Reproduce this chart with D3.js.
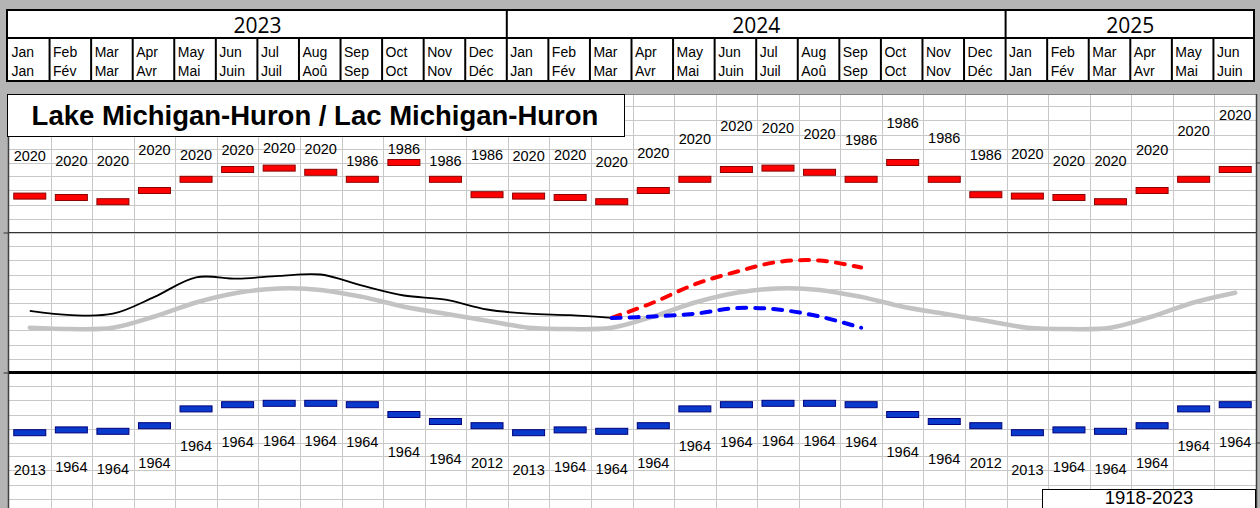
<!DOCTYPE html>
<html>
<head>
<meta charset="utf-8">
<script src="https://cdn.jsdelivr.net/npm/d3@7"></script>
<style>
  body { margin: 0; background: #b4b4b4; }
  svg { display: block; }
  text { font-family: "Liberation Sans", Arial, sans-serif; fill: #000; }
</style>
</head>
<body>
<svg width="1260" height="508"></svg>
<script>
// month labels (English / French) and years shown in the header
const monthsEn = ["Jan", "Feb", "Mar", "Apr", "May", "Jun", "Jul", "Aug", "Sep", "Oct", "Nov", "Dec"];
const monthsFr = ["Jan", "Fév", "Mar", "Avr", "Mai", "Juin", "Juil", "Aoû", "Sep", "Oct", "Nov", "Déc"];
const years = [2023, 2024, 2025];
const monthsShown = 30; // Jan 2023 .. Jun 2025

// monthly records (m) and the year each was set
const recordHigh = [177.26, 177.25, 177.22, 177.30, 177.38, 177.45, 177.46, 177.43, 177.38, 177.50, 177.38, 177.27];
const recordHighYear = [2020, 2020, 2020, 2020, 2020, 2020, 2020, 2020, 1986, 1986, 1986, 1986];
const recordLow = [175.57, 175.59, 175.58, 175.62, 175.74, 175.77, 175.78, 175.78, 175.77, 175.70, 175.65, 175.62];
const recordLowYear = [2013, 1964, 1964, 1964, 1964, 1964, 1964, 1964, 1964, 1964, 1964, 2012];

// long term monthly average 1918-2023 (m)
const longTermAvg = [176.32, 176.31, 176.32, 176.40, 176.50, 176.57, 176.60, 176.59, 176.54, 176.47, 176.42, 176.37];

// recorded levels Jan 2023 .. Mar 2024 (m)
const recorded = [176.44, 176.41, 176.42, 176.54, 176.68, 176.67, 176.69, 176.70, 176.62, 176.55, 176.52, 176.45,
                  176.42, 176.41, 176.39];

// forecast range Mar 2024 .. Sep 2024 (m)
const forecastStart = 14;
const forecastHigh = [176.39, 176.50, 176.63, 176.72, 176.79, 176.80, 176.75];
const forecastLow = [176.39, 176.40, 176.42, 176.46, 176.45, 176.40, 176.32];

// label placement for the record-high years (px above the bar), hand tuned like the original
const highLabelRise = [40, 37, 41, 41, 25, 20, 20, 24, 19, 14, 19, 40,
                       40, 43, 40, 38, 41, 44, 40, 39, 40, 40, 42, 40,
                       42, 37, 41, 41, 49, 55];
const lowLabelDrop = 37;

const svg = d3.select("svg");
const W = 1260, H = 508;

svg.append("rect").attr("width", W).attr("height", H).attr("fill", "#b4b4b4");

const months = d3.range(monthsShown);
const x = d3.scaleBand().domain(months).range([9, 1256]);
const cx = i => x(i) + x.bandwidth() / 2;
const y = d3.scaleLinear().domain([176, 177]).range([372.5, 232.5]);

// ---------- header table ----------
const head = svg.append("g").attr("transform", "translate(-1,0)");
head.append("rect")
  .attr("x", 8).attr("y", 10).attr("width", 1247).attr("height", 71)
  .attr("fill", "#fff");

const yearSpans = years.map((yr, k) => {
  const first = k * 12;
  const last = Math.min(first + 11, monthsShown - 1);
  return { yr, x0: x(first), x1: x(last) + x.bandwidth() };
});

head.selectAll("text.year")
  .data(yearSpans)
  .join("text")
  .attr("class", "year")
  .attr("x", d => (d.x0 + d.x1) / 2)
  .attr("y", 33)
  .attr("text-anchor", "middle")
  .style("font-family", "'Open Sans', sans-serif")
  .style("font-size", "21px")
  .text(d => d.yr);

head.selectAll("g.month")
  .data(months)
  .join("g")
  .attr("class", "month")
  .each(function (i) {
    const g = d3.select(this);
    g.append("text").attr("x", x(i) + 3.5).attr("y", 57)
      .style("font-size", "14px").text(monthsEn[i % 12]);
    g.append("text").attr("x", x(i) + 3.5).attr("y", 76)
      .style("font-size", "14px").text(monthsFr[i % 12]);
  });

head.selectAll("line.msep")
  .data(months.slice(1))
  .join("line")
  .attr("x1", i => x(i)).attr("x2", i => x(i))
  .attr("y1", i => i % 12 === 0 ? 10 : 38).attr("y2", 81)
  .attr("stroke", "#000").attr("stroke-width", 2);

head.append("line")
  .attr("x1", 8).attr("x2", 1255).attr("y1", 38).attr("y2", 38)
  .attr("stroke", "#000").attr("stroke-width", 2);
head.append("rect")
  .attr("x", 8).attr("y", 10).attr("width", 1247).attr("height", 71)
  .attr("fill", "none").attr("stroke", "#000").attr("stroke-width", 2);

// ---------- chart panel ----------
const panelTop = 94;
svg.append("rect")
  .attr("x", 8).attr("y", panelTop).attr("width", 1249).attr("height", H - panelTop)
  .attr("fill", "#fff");

const grid = svg.append("g");
const gridValues = d3.range(1740, 1781).map(d => d / 10).filter(v => y(v) > panelTop + 2 && y(v) < H);
grid.selectAll("line.h")
  .data(gridValues)
  .join("line")
  .attr("x1", 9).attr("x2", 1256)
  .attr("y1", d => Math.round(y(d)) + 0.5).attr("y2", d => Math.round(y(d)) + 0.5)
  .attr("stroke", "#c8c8c8");
grid.selectAll("line.v")
  .data(months.slice(1))
  .join("line")
  .attr("x1", i => Math.round(x(i)) + 0.5).attr("x2", i => Math.round(x(i)) + 0.5)
  .attr("y1", panelTop).attr("y2", H)
  .attr("stroke", "#c8c8c8");

// panel border
svg.append("line").attr("x1", 8).attr("x2", 1257).attr("y1", panelTop + 0.5).attr("y2", panelTop + 0.5)
  .attr("stroke", "#808080");
svg.append("line").attr("x1", 8.5).attr("x2", 8.5).attr("y1", panelTop).attr("y2", H)
  .attr("stroke", "#404040").attr("stroke-width", 1.5);
svg.append("line").attr("x1", 1256.5).attr("x2", 1256.5).attr("y1", panelTop).attr("y2", H)
  .attr("stroke", "#404040").attr("stroke-width", 1.5);

// 177 m line and chart datum (176 m)
svg.append("line").attr("x1", 9).attr("x2", 1256).attr("y1", y(177)).attr("y2", y(177))
  .attr("stroke", "#333").attr("stroke-width", 1.2);
svg.append("line").attr("x1", 9).attr("x2", 1256).attr("y1", y(176)).attr("y2", y(176))
  .attr("stroke", "#000").attr("stroke-width", 3);

// axes (labels fall outside the visible frame)
const leftAxis = svg.append("g").attr("transform", "translate(8.5,0)")
  .call(d3.axisLeft(y).tickValues([176, 177]).tickSize(5).tickFormat(""));
leftAxis.select(".domain").remove();
leftAxis.selectAll("line").attr("stroke", "#333");
const rightAxis = svg.append("g").attr("transform", "translate(1256.5,0)")
  .call(d3.axisRight(y).tickValues([175.5, 177.5]).tickSize(4).tickFormat(""));
rightAxis.select(".domain").remove();
rightAxis.selectAll("line").attr("stroke", "#333");

// ---------- lines ----------
const line = d3.line()
  .x(d => cx(d.i))
  .y(d => y(d.v))
  .curve(d3.curveCatmullRom.alpha(0.5));

const avgSeries = months.map(i => ({ i, v: longTermAvg[i % 12] }));
svg.append("path").datum(avgSeries)
  .attr("d", line).attr("fill", "none")
  .attr("stroke", "#c3c3c3").attr("stroke-width", 4.5).attr("stroke-linecap", "round");

svg.append("path").datum(recorded.map((v, i) => ({ i, v })))
  .attr("d", line).attr("fill", "none")
  .attr("stroke", "#000").attr("stroke-width", 1.8);

svg.append("path").datum(forecastHigh.map((v, k) => ({ i: forecastStart + k, v })))
  .attr("d", line).attr("fill", "none")
  .attr("stroke", "#ff0000").attr("stroke-width", 4)
  .attr("stroke-dasharray", "9,9").attr("stroke-linecap", "round");

svg.append("path").datum(forecastLow.map((v, k) => ({ i: forecastStart + k, v })))
  .attr("d", line).attr("fill", "none")
  .attr("stroke", "#0000ff").attr("stroke-width", 4)
  .attr("stroke-dasharray", "9,9").attr("stroke-linecap", "round");

// ---------- record bars ----------
const barW = 32, barH = 6;

svg.selectAll("rect.high")
  .data(months)
  .join("rect")
  .attr("class", "high")
  .attr("x", i => cx(i) - barW / 2)
  .attr("y", i => y(recordHigh[i % 12]) - barH / 2)
  .attr("width", barW).attr("height", barH)
  .attr("fill", "#ff0000").attr("stroke", "#8b0000").attr("stroke-width", 1);

svg.selectAll("rect.low")
  .data(months)
  .join("rect")
  .attr("class", "low")
  .attr("x", i => cx(i) - barW / 2)
  .attr("y", i => y(recordLow[i % 12]) - barH / 2)
  .attr("width", barW).attr("height", barH)
  .attr("fill", "#0a3acc").attr("stroke", "#00007a").attr("stroke-width", 1);

svg.selectAll("text.highyr")
  .data(months)
  .join("text")
  .attr("class", "highyr")
  .attr("x", cx)
  .attr("y", i => y(recordHigh[i % 12]) - highLabelRise[i] + 5.2)
  .attr("text-anchor", "middle")
  .style("font-size", "14.5px")
  .text(i => recordHighYear[i % 12]);

svg.selectAll("text.lowyr")
  .data(months)
  .join("text")
  .attr("class", "lowyr")
  .attr("x", cx)
  .attr("y", i => y(recordLow[i % 12]) + lowLabelDrop + 5.2)
  .attr("text-anchor", "middle")
  .style("font-size", "14.5px")
  .text(i => recordLowYear[i % 12]);

// ---------- title and period boxes ----------
svg.append("rect")
  .attr("x", 7.5).attr("y", 94.5).attr("width", 617).attr("height", 42)
  .attr("fill", "#fff").attr("stroke", "#000");
svg.append("text")
  .attr("x", 315).attr("y", 124.5)
  .attr("text-anchor", "middle")
  .style("font-size", "27.5px").style("font-weight", "bold")
  .text("Lake Michigan-Huron / Lac Michigan-Huron");

svg.append("rect")
  .attr("x", 1042.5).attr("y", 489.5).attr("width", 213).attr("height", 40)
  .attr("fill", "#fff").attr("stroke", "#000");
svg.append("text")
  .attr("x", 1149).attr("y", 503.5)
  .attr("text-anchor", "middle")
  .style("font-size", "18.5px")
  .text("1918-2023");
</script>
</body>
</html>
